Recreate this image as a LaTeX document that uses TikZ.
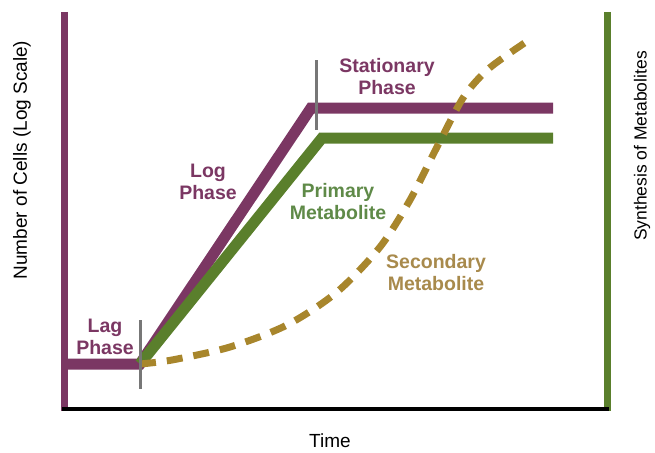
\documentclass[tikz,border=0pt]{standalone}
\usepackage{fontspec}
\setmainfont{Liberation Sans}
\usepackage{tikz}
\usetikzlibrary{arrows.meta}

\definecolor{cellpurple}{HTML}{7B3763}
\definecolor{primgreen}{HTML}{5A7F2C}
\definecolor{primtext}{HTML}{5F8A48}
\definecolor{secgold}{HTML}{A8862C}
\definecolor{sectext}{HTML}{A88A4C}
\definecolor{phasegray}{HTML}{777777}

\tikzset{
  phaselabel/.style={font=\fontsize{19.5}{22}\selectfont\bfseries, align=center},
  axislabel/.style={font=\fontsize{19}{21}\selectfont}
}

\begin{document}
\begin{tikzpicture}[x=1pt,y=-1pt]
		\useasboundingbox (0,0) rectangle (655,452);
		
		% axes
		\draw[cellpurple,line width=7] (64,12)--(64,411);
		\draw[primgreen,line width=7] (607,12)--(607,411);
		\draw[black,line width=4] (62,409)--(609,409);
		
		% cell growth curve
		\draw[cellpurple,line width=11] (68,364)--(140,364)--(311,108)--(553,108);
		
		% primary metabolite
		\draw[primgreen,line width=11] (140,364)--(322,138)--(553,138);
		
		% secondary metabolite
		\draw[secgold,line width=7,dash pattern=on 16 off 11]
			plot[smooth,tension=0.5] coordinates {(140,364) (172,360) (230,347) (287,325) (337,292) (380,247) (410,200) (437,147) (463,98) (485,72) (507,55) (532,38)};
		
		% phase markers
		\draw[phasegray,line width=3] (140,320)--(140,389);
		\draw[phasegray,line width=3] (316,60)--(316,130);
		
		% labels
		\node[phaselabel,text=cellpurple] (lag) at (105,337) {Lag\\Phase};
		\node[phaselabel,text=cellpurple] (log) at (208,182) {Log\\Phase};
		\node[phaselabel,text=cellpurple] (stat) at (387,77) {Stationary\\Phase};
		\node[phaselabel,text=primtext] (prim) at (338,202) {Primary\\Metabolite};
		\node[phaselabel,text=sectext] (sec) at (436,273) {Secondary\\Metabolite};
		
		\node[axislabel,rotate=90] (cells) at (22,160) {Number of Cells (Log Scale)};
		\node[axislabel,rotate=90,font=\fontsize{17.5}{20}\selectfont] (synth) at (642,146) {Synthesis of Metabolites};
		\node[axislabel] (time) at (330,441) {Time};
	\end{tikzpicture}
\end{document}
